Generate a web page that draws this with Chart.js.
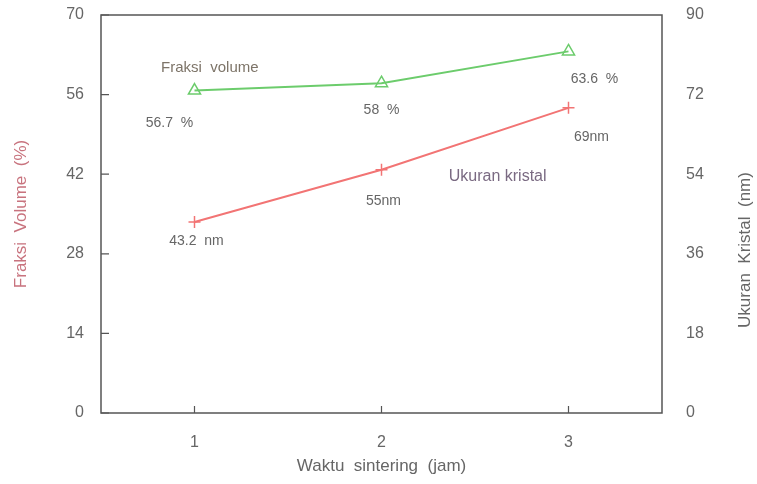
<!DOCTYPE html>
<html>
<head>
<meta charset="utf-8">
<script src="https://cdn.jsdelivr.net/npm/chart.js@4.4.1/dist/chart.umd.min.js"></script>
<style>
  html, body { margin: 0; padding: 0; background: #fff; }
  #wrap { width: 757px; height: 484px; }
</style>
</head>
<body>
<div id="wrap"><canvas id="myChart" width="757" height="484"></canvas></div>
<script>
// data
const waktu = ['1', '2', '3'];
const fraksiVolume = [56.7, 58, 63.6];
const ukuranKristal = [43.2, 55, 69];
const fraksiLabels = ['56.7  %', '58  %', '63.6  %'];
const kristalLabels = ['43.2  nm', '55nm', '69nm'];

const axisColor = '#555';
const textColor = '#666';
const fontFam = '"Liberation Sans", Arial, sans-serif';

// offsets of the value labels from their points (px)
const fraksiOff = [[-25, 33], [0, 27], [26, 28]];
const kristalOff = [[2, 19], [2, 31], [23, 29]];

const decor = {
  id: 'decor',
  afterDraw(chart) {
    const c = chart.ctx;
    const a = chart.chartArea;
    const x = chart.scales.x, y = chart.scales.y;
    c.save();
    // frame
    c.strokeStyle = axisColor;
    c.lineWidth = 1.5;
    c.strokeRect(a.left, a.top, a.right - a.left, a.bottom - a.top);
    // inward tick marks
    c.lineWidth = 1.2;
    c.beginPath();
    y.ticks.forEach((t, i) => {
      const py = y.getPixelForTick(i);
      c.moveTo(a.left, py); c.lineTo(a.left + 8, py);
    });
    x.ticks.forEach((t, i) => {
      const px = x.getPixelForTick(i);
      c.moveTo(px, a.bottom); c.lineTo(px, a.bottom - 7);
    });
    c.stroke();

    // value labels
    c.font = '14px ' + fontFam;
    c.fillStyle = textColor;
    c.textAlign = 'center';
    c.textBaseline = 'middle';
    const m0 = chart.getDatasetMeta(0).data;
    const m1 = chart.getDatasetMeta(1).data;
    m0.forEach((p, i) => c.fillText(fraksiLabels[i], p.x + fraksiOff[i][0], p.y + fraksiOff[i][1]));
    m1.forEach((p, i) => c.fillText(kristalLabels[i], p.x + kristalOff[i][0], p.y + kristalOff[i][1]));

    // series names
    c.font = '15px ' + fontFam;
    c.fillStyle = '#7d7468';
    c.fillText('Fraksi  volume', a.left + 0.194 * (a.right - a.left), a.top + 0.133 * (a.bottom - a.top));
    c.fillStyle = '#7a6a82';
    c.font = '16px ' + fontFam;
    c.fillText('Ukuran kristal', a.left + 0.707 * (a.right - a.left), a.top + 0.405 * (a.bottom - a.top));

    // right axis title, reading bottom to top
    c.translate(745, 250);
    c.rotate(-Math.PI / 2);
    c.font = '17px ' + fontFam;
    c.fillStyle = textColor;
    c.fillText('Ukuran  Kristal  (nm)', 0, 0);
    c.restore();
  }
};

new Chart(document.getElementById('myChart'), {
  type: 'line',
  data: {
    labels: waktu,
    datasets: [{
      label: 'Fraksi volume',
      data: fraksiVolume,
      yAxisID: 'y',
      borderColor: '#6ccc6c',
      backgroundColor: 'rgba(0,0,0,0)',
      borderWidth: 2,
      pointStyle: 'triangle',
      pointRadius: 7,
      pointBorderWidth: 1.5,
      pointBorderColor: '#6ccc6c',
      pointBackgroundColor: 'rgba(255,255,255,0)',
      tension: 0
    }, {
      label: 'Ukuran kristal',
      data: ukuranKristal,
      yAxisID: 'y1',
      borderColor: '#f27474',
      borderWidth: 2,
      pointStyle: 'cross',
      pointRadius: 6,
      pointBorderWidth: 1.5,
      pointBorderColor: '#f27474',
      tension: 0
    }]
  },
  options: {
    responsive: false,
    animation: false,
    layout: { padding: { top: 15, left: 0, right: 0, bottom: 0 } },
    plugins: { legend: { display: false }, tooltip: { enabled: false } },
    scales: {
      x: {
        type: 'category',
        offset: true,
        grid: { display: false },
        border: { display: false },
        ticks: { color: textColor, padding: 12, font: { family: fontFam, size: 16 } },
        title: { display: true, text: 'Waktu  sintering  (jam)', color: textColor,
                 padding: { top: 0, bottom: 7 }, font: { family: fontFam, size: 17 } },
        afterFit(s) { s.height = 71; s.paddingLeft = 0; s.paddingRight = 0; }
      },
      y: {
        position: 'left',
        min: 0, max: 70,
        grid: { display: false },
        border: { display: false },
        ticks: { stepSize: 14, color: textColor, padding: 9, font: { family: fontFam, size: 16 } },
        title: { display: true, text: 'Fraksi  Volume  (%)', color: '#c8737e',
                 padding: { top: 11, bottom: 0 }, font: { family: fontFam, size: 17 } },
        afterFit(s) { s.width = 101; s.paddingTop = 0; s.paddingBottom = 0; }
      },
      y1: {
        position: 'right',
        min: 0, max: 90,
        grid: { display: false },
        border: { display: false },
        ticks: { stepSize: 18, color: textColor, padding: 16, font: { family: fontFam, size: 16 } },
        afterFit(s) { s.width = 95; s.paddingTop = 0; s.paddingBottom = 0; }
      }
    }
  },
  plugins: [decor]
});
</script>
</body>
</html>
